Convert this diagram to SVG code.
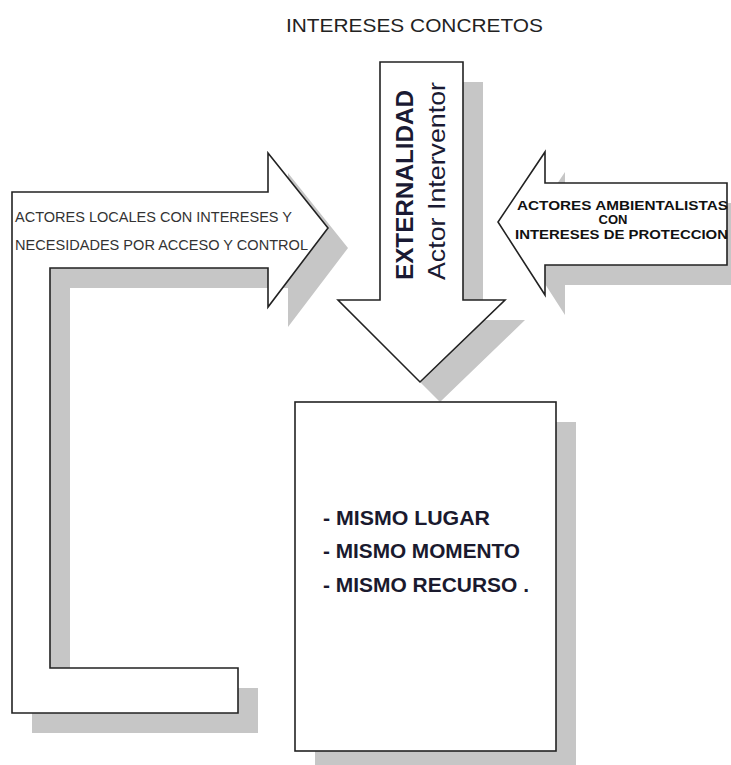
<svg xmlns="http://www.w3.org/2000/svg" xmlns:xlink="http://www.w3.org/1999/xlink" width="731" height="765" viewBox="0 0 731 765">
<style>
.shape{fill:#ffffff;stroke:#222222;stroke-width:1.6;stroke-linejoin:miter}
.shadow{fill:#c6c6c6;stroke:none}
.t{font-family:"Liberation Sans",Arial,sans-serif}
.b{font-weight:bold}
</style>
<defs>
<path id="p-left" d="M12,192 L268,192 L268,153 L328,228 L268,307 L268,268 L50,268 L50,668 L238,668 L238,713 L12,713 Z"/>
<path id="p-down" d="M380,62 L463,62 L463,300 L505,300 L420,382 L338,300 L380,300 Z"/>
<path id="p-right" d="M727,183 L545,183 L545,152 L498,222 L545,295 L545,265 L727,265 Z"/>
<rect id="p-box" x="295" y="402" width="261" height="349"/>
</defs>
<rect width="731" height="765" fill="#ffffff"/>
<g id="shadows">
<use xlink:href="#p-left" class="shadow" transform="translate(20,20)"/>
<use xlink:href="#p-down" class="shadow" transform="translate(20,20)"/>
<use xlink:href="#p-right" class="shadow" transform="translate(20,20)"/>
<use xlink:href="#p-box" class="shadow" transform="translate(20,20)"/>
</g>
<g id="title">
<text class="t" x="286" y="32" font-size="19" fill="#222" textLength="257" lengthAdjust="spacingAndGlyphs">INTERESES CONCRETOS</text>
</g>
<g id="actores-locales">
<use xlink:href="#p-left" class="shape"/>
<text class="t" x="15" y="222" font-size="14" fill="#333" textLength="277" lengthAdjust="spacingAndGlyphs">ACTORES LOCALES CON INTERESES Y</text>
<text class="t" x="15" y="250" font-size="14" fill="#333" textLength="293" lengthAdjust="spacingAndGlyphs">NECESIDADES POR ACCESO Y CONTROL</text>
</g>
<g id="externalidad">
<use xlink:href="#p-down" class="shape"/>
<text class="t b" transform="translate(413,280) rotate(-90)" font-size="24" fill="#1a1a33" textLength="190" lengthAdjust="spacingAndGlyphs">EXTERNALIDAD</text>
<text class="t" transform="translate(445,280) rotate(-90)" font-size="24" fill="#1a1a33" textLength="198" lengthAdjust="spacingAndGlyphs">Actor Interventor</text>
</g>
<g id="actores-ambientalistas">
<use xlink:href="#p-right" class="shape"/>
<text class="t b" x="517" y="210" font-size="13" fill="#111" textLength="211" lengthAdjust="spacingAndGlyphs">ACTORES AMBIENTALISTAS</text>
<text class="t b" x="613" y="224" font-size="13" fill="#111" text-anchor="middle">CON</text>
<text class="t b" x="515" y="239" font-size="13" fill="#111" textLength="213" lengthAdjust="spacingAndGlyphs">INTERESES DE PROTECCION</text>
</g>
<g id="mismo">
<use xlink:href="#p-box" class="shape"/>
<text class="t b" x="323" y="525" font-size="21" fill="#1a1a2e" textLength="167" lengthAdjust="spacingAndGlyphs">- MISMO LUGAR</text>
<text class="t b" x="323" y="558" font-size="21" fill="#1a1a2e" textLength="197" lengthAdjust="spacingAndGlyphs">- MISMO MOMENTO</text>
<text class="t b" x="323" y="592" font-size="21" fill="#1a1a2e" textLength="206" lengthAdjust="spacingAndGlyphs">- MISMO RECURSO .</text>
</g>
<g id="connectors"></g>
</svg>
